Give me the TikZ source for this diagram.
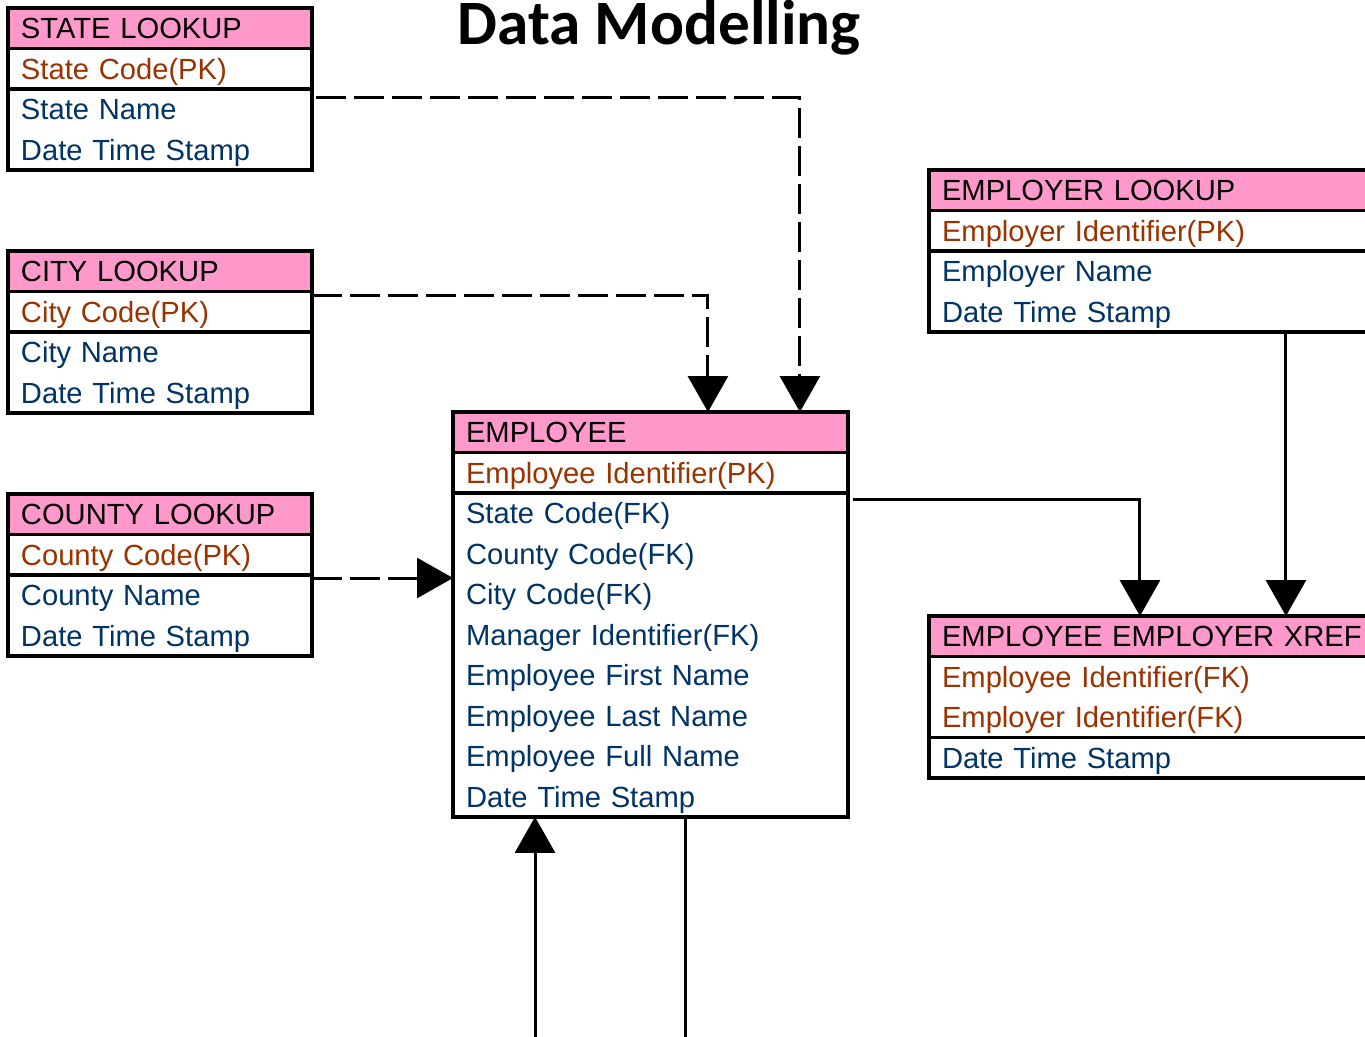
\documentclass[tikz,border=0pt]{standalone}
\usepackage{fontspec}
\setmainfont{Liberation Sans}
\newfontfamily\titlefont{Carlito}
\usetikzlibrary{positioning, arrows.meta}
\definecolor{erdpink}{HTML}{FF99CC}
\definecolor{erdkey}{HTML}{993300}
\definecolor{erdattr}{HTML}{003366}
% fixed height/depth so every row sits at the same place
\newcommand{\rowstrut}{\rule[-0.12cm]{0pt}{0.66cm}}

\begin{document}
\begin{tikzpicture}[x=0.02cm, y=-0.02cm,
        tbl/.style={draw, line width=0.07cm, anchor=north west, outer sep=0pt, inner xsep=0.26cm, inner ysep=0pt,
            align=left, font=\fontsize{16.6pt}{0.81cm}\selectfont, minimum height=0.81cm,
            execute at begin node=\rowstrut, execute at end node=\rowstrut},
        rows/.style={minimum height=#1*0.81cm},
        tblhead/.style={tbl, fill=erdpink, text=black},
        tblkey/.style={tbl, fill=white, text=erdkey},
        tblattr/.style={tbl, fill=white, text=erdattr},
        narrow/.style={text width=5.56cm},
        middle/.style={text width=7.38cm},
        wide/.style={text width=9.48cm},
        fk/.style={line width=0.06cm, -{Triangle[width=0.8cm, length=0.72cm]}},
        lookup/.style={fk, dash pattern=on 0.6cm off 0.16cm}
    ]
      \useasboundingbox (0,0) rectangle (1365,1036);
      \clip (0,0) rectangle (1365,1036);

      \node[font=\titlefont\bfseries\fontsize{36pt}{42pt}\selectfont] (title) at (659,28) {Data Modelling};

      % lookup tables on the left
      \node[tblhead, narrow] (statehd) at (8,8) {STATE LOOKUP};
      \node[tblkey, narrow] (statepk) at (statehd.south west) {State Code(PK)};
      \node[tblattr, narrow, rows=2] (stateat) at (statepk.south west) {State Name\\Date Time Stamp};

      \node[tblhead, narrow] (cityhd) at (8,251) {CITY LOOKUP};
      \node[tblkey, narrow] (citypk) at (cityhd.south west) {City Code(PK)};
      \node[tblattr, narrow, rows=2] (cityat) at (citypk.south west) {City Name\\Date Time Stamp};

      \node[tblhead, narrow] (countyhd) at (8,494) {COUNTY LOOKUP};
      \node[tblkey, narrow] (countypk) at (countyhd.south west) {County Code(PK)};
      \node[tblattr, narrow, rows=2] (countyat) at (countypk.south west) {County Name\\Date Time Stamp};

      % employee
      \node[tblhead, middle] (emphd) at (453,412) {EMPLOYEE};
      \node[tblkey, middle] (emppk) at (emphd.south west) {Employee Identifier(PK)};
      \node[tblattr, middle, rows=8] (empat) at (emppk.south west)
           {State Code(FK)\\County Code(FK)\\City Code(FK)\\Manager Identifier(FK)\\
            Employee First Name\\Employee Last Name\\Employee Full Name\\Date Time Stamp};

      % employer side
      \node[tblhead, wide] (emplrhd) at (929,170) {EMPLOYER LOOKUP};
      \node[tblkey, wide] (emplrpk) at (emplrhd.south west) {Employer Identifier(PK)};
      \node[tblattr, wide, rows=2] (emplrat) at (emplrpk.south west) {Employer Name\\Date Time Stamp};

      \node[tblhead, wide] (xrefhd) at (929,616) {EMPLOYEE EMPLOYER XREF};
      \node[tblkey, wide, rows=2] (xrefpk) at (xrefhd.south west) {Employee Identifier(FK)\\Employer Identifier(FK)};
      \node[tblattr, wide] (xrefat) at (xrefpk.south west) {Date Time Stamp};

      % lookup references
      \draw[lookup] ([xshift=0.08cm, yshift=-0.18cm]stateat.north east) -| ([xshift=-0.96cm]emphd.north east);
      \draw[lookup] ([yshift=-0.08cm]citypk.north east) -| ([xshift=5.1cm]emphd.north west);
      \coordinate (cty) at ([yshift=-0.06cm]countyat.north east);
      \draw[lookup] (cty) -- (cty -| empat.west);

      % xref links
      \draw[fk] ([xshift=0.1cm, yshift=-0.14cm]empat.north east) -| ([xshift=4.22cm]xrefhd.north west);
      \draw[fk] ([xshift=7.14cm]emplrat.south west) -- ([xshift=7.14cm]xrefhd.north west);

      % manager self reference
      \coordinate (mgrin) at (535,1040);
      \coordinate (mgrout) at (685,1040);
      \draw[fk] (mgrin) -- (mgrin |- empat.south);
      \draw[line width=0.06cm] (mgrout |- empat.south) -- (mgrout);
\end{tikzpicture}
\end{document}
